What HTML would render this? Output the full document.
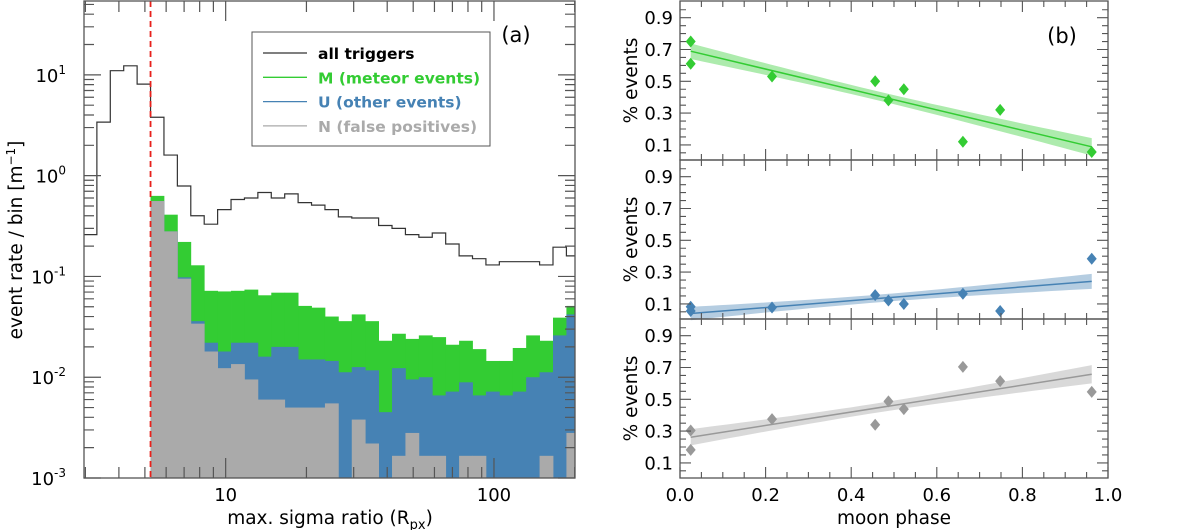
<!DOCTYPE html>
<html><head><meta charset="utf-8">
<style>
html,body{margin:0;padding:0;background:#fff;}
svg{display:block;font-family:"DejaVu Sans","Liberation Sans",sans-serif;}
</style></head>
<body>
<svg id="fig" width="1200" height="530" viewBox="0 0 1200 530" xmlns="http://www.w3.org/2000/svg">
<g id="left"></g>
<g id="right"></g>
</svg>
<script>
// ---------- Panel (a) data ----------
const binStartLog = 0.52;   // log10 of first full bin edge
const binWidthLog = 0.05;   // bin width in log10
const preBinAll = 0.26;     // partial bin left of first edge
const allTriggers = [3.4,11,12.3,8.1,3.8,1.6,0.79,0.40,0.33,0.46,0.58,0.60,0.68,0.60,0.66,0.54,0.51,0.46,0.39,0.38,0.38,0.32,0.30,0.26,0.245,0.27,0.21,0.16,0.15,0.13,0.14,0.14,0.14,0.13,0.195,0.16];
const stackStartBin = 4;
const totalMUN = [0.63,0.41,0.22,0.129,0.072,0.071,0.072,0.074,0.065,0.069,0.069,0.051,0.049,0.040,0.036,0.042,0.036,0.023,0.027,0.024,0.026,0.025,0.021,0.023,0.019,0.0145,0.0145,0.0195,0.026,0.023,0.039,0.051];
const otherUN = [0.56,0.28,0.098,0.036,0.022,0.018,0.022,0.022,0.016,0.020,0.020,0.015,0.015,0.0145,0.0112,0.0126,0.0117,0.0045,0.0123,0.0095,0.010,0.0066,0.0072,0.0089,0.0066,0.0072,0.0066,0.0072,0.010,0.0112,0.026,0.042];
const falseN = [0.56,0.28,0.095,0.034,0.018,0.0123,0.0135,0.0095,0.006,0.006,0.005,0.005,0.005,0.0055,0,0.0038,0.0022,0,0.00166,0.0028,0.00166,0.00166,0,0.00166,0.00166,0,0,0,0,0.00166,0,0.0028];
const thresholdLog = 0.72;
const xTickVals = [10,100];
const xTickLabels = ["10","100"];
const yTickExps = [-3,-2,-1,0,1];
const yTickLabels = ["-3","-2","-1","0","1"];

// ---------- Panel (b) data ----------
const moonPhase = [0.025,0.025,0.215,0.456,0.487,0.523,0.661,0.748,0.962];
const fracM = [0.75,0.61,0.53,0.50,0.38,0.45,0.12,0.32,0.055];
const fracU = [0.082,0.055,0.077,0.155,0.121,0.099,0.164,0.055,0.384];
const fracN = [0.304,0.182,0.375,0.34,0.487,0.438,0.704,0.614,0.547];
const phaseTicks = [0,0.2,0.4,0.6,0.8,1.0];
const phaseTickLabels = ["0.0","0.2","0.4","0.6","0.8","1.0"];
const fracTicks = [0.1,0.3,0.5,0.7,0.9];
const fracTickLabels = ["0.1","0.3","0.5","0.7","0.9"];

const NS="http://www.w3.org/2000/svg";
function mk(parent,tag,attrs,text){const e=document.createElementNS(NS,tag);for(const k in attrs)e.setAttribute(k,attrs[k]);if(text!==undefined)e.textContent=text;parent.appendChild(e);return e;}

// ===== Panel (a) =====
const L=document.getElementById('left');
const ax={x0:84,x1:575,y0:1,y1:478,lx0:0.472,lx1:2.302,ly0:-3,ly1:1.733};
const X=l=>ax.x0+(l-ax.lx0)/(ax.lx1-ax.lx0)*(ax.x1-ax.x0);
const Y=l=>ax.y1-(l-ax.ly0)/(ax.ly1-ax.ly0)*(ax.y1-ax.y0);
const Yv=v=>Math.max(ax.y0,Math.min(ax.y1,Y(Math.log10(v))));
const edge=k=>Math.min(ax.lx1,binStartLog+binWidthLog*k);

mk(L,'defs',{}).innerHTML='<clipPath id="clipA"><rect x="84" y="1" width="491" height="477"/></clipPath>';
const bars=mk(L,'g',{'clip-path':'url(#clipA)'});
function drawStack(arr,color,name){
  arr.forEach((v,i)=>{
    if(v<=0)return;
    const k=stackStartBin+i;
    const xa=X(edge(k)),xb=X(edge(k+1));
    const r=mk(bars,'rect',{x:xa,y:Yv(v),width:xb-xa+0.4,height:ax.y1-Yv(v),fill:color});
    
    
  });
}
drawStack(totalMUN,'#33cc33','bar-meteor');
drawStack(otherUN,'#4682b4','bar-other');
drawStack(falseN,'#aaaaaa','bar-false-positive');

let d='M'+ax.x0+','+Yv(preBinAll)+' H'+X(edge(0));
allTriggers.forEach((v,k)=>{d+=' V'+Yv(v)+' H'+X(edge(k+1));});
const st=mk(bars,'path',{d:d,fill:'none',stroke:'#333',"stroke-width":1.2});



const th=mk(L,'line',{x1:X(thresholdLog),x2:X(thresholdLog),y1:ax.y0,y2:ax.y1,stroke:'#e8211c','stroke-width':1.8,'stroke-dasharray':'6,4'});



const fa=mk(L,'rect',{x:ax.x0,y:ax.y0,width:ax.x1-ax.x0,height:ax.y1-ax.y0,fill:'none',stroke:'#555','stroke-width':1.3});


let tk='';
for(let dec=0;dec<3;dec++){for(let m=1;m<10;m++){const l=dec+Math.log10(m);if(l<ax.lx0||l>ax.lx1)continue;const x=X(l);const len=m===1?20:11;tk+=`M${x},${ax.y1}v${-len}M${x},${ax.y0}v${len}`;}}
for(let e=-3;e<2;e++){for(let m=1;m<10;m++){const l=e+Math.log10(m);if(l>ax.ly1)continue;const y=Y(l);const len=m===1?17:10;tk+=`M${ax.x0},${y}h${len}M${ax.x1},${y}h${-len}`;}}
mk(L,'path',{d:tk,stroke:'#555','stroke-width':1.2,fill:'none'});
xTickVals.forEach((v,i)=>{const t=mk(L,'text',{x:X(Math.log10(v)),y:501,'font-size':18,'text-anchor':'middle'},xTickLabels[i]);

});
yTickExps.forEach((e,i)=>{const t=mk(L,'text',{x:66,y:Y(e)+7,'font-size':18,'text-anchor':'end'});


t.innerHTML='10<tspan dy="-8" font-size="12">'+yTickLabels[i]+'</tspan>';});
const xl=mk(L,'text',{x:330,y:524,'font-size':18.5,'text-anchor':'middle'});


xl.innerHTML='max. sigma ratio (R<tspan dy="5" font-size="13">px</tspan><tspan dy="-5">)</tspan>';
const yl=mk(L,'text',{x:0,y:0,'font-size':18.5,'text-anchor':'middle',transform:'translate(22,240) rotate(-90)'});


yl.innerHTML='event rate / bin [m<tspan dy="-7" font-size="12">−1</tspan><tspan dy="7">]</tspan>';
const pa=mk(L,'text',{x:516,y:42,'font-size':21,'text-anchor':'middle'},'(a)');



const lg=mk(L,'g',{});


mk(lg,'rect',{x:252,y:32,width:238,height:114,fill:'#fff',stroke:'#555','stroke-width':1});
[['all triggers','#333','#000'],['M (meteor events)','#33cc33','#33cc33'],['U (other events)','#4682b4','#4682b4'],['N (false positives)','#aaaaaa','#aaaaaa']].forEach((e,i)=>{
  const y=53+i*24.3;
  const g=mk(lg,'g',{});
  
  
  mk(g,'line',{x1:263,x2:307,y1:y,y2:y,stroke:e[1],'stroke-width':1.3});
  mk(g,'text',{x:318,y:y+6,'font-size':15.5,'font-weight':'bold',fill:e[2]},e[0]);
});

// ===== Panel (b) =====
const R=document.getElementById('right');
const bx0=680,bx1=1108;
const PX=v=>bx0+v*(bx1-bx0);
const panels=[{top:1,bot:160,data:fracM,col:'#33cc33',band:'rgba(51,204,51,0.4)',name:'meteor'},
              {top:160,bot:319,data:fracU,col:'#4682b4',band:'rgba(70,130,180,0.4)',name:'other'},
              {top:319,bot:478,data:fracN,col:'#999999',band:'rgba(170,170,170,0.45)',name:'false-positive'}];
panels.forEach((p,pi)=>{
  const g=mk(R,'g',{});
  
  
  const PY=v=>p.bot-(v-0.005)/1.0*(p.bot-p.top);
  const n=moonPhase.length;
  const xm=moonPhase.reduce((a,b)=>a+b,0)/n, ym=p.data.reduce((a,b)=>a+b,0)/n;
  let sxx=0,sxy=0;moonPhase.forEach((x,i)=>{sxx+=(x-xm)**2;sxy+=(x-xm)*(p.data[i]-ym);});
  const b=sxy/sxx,a=ym-b*xm;
  let ss=0;moonPhase.forEach((x,i)=>{ss+=(p.data[i]-a-b*x)**2;});
  const s=Math.sqrt(ss/(n-2))*0.9;
  const xa=Math.min(...moonPhase),xb=Math.max(...moonPhase);
  const up=[],lo=[];
  for(let j=0;j<=40;j++){const x=xa+(xb-xa)*j/40;const h=s*Math.sqrt(1/n+(x-xm)**2/sxx);const yv=a+b*x;up.push(PX(x)+','+PY(yv+h));lo.unshift(PX(x)+','+PY(yv-h));}
  const band=mk(g,'polygon',{points:up.concat(lo).join(' '),fill:p.band});
  
  
  const fl=mk(g,'line',{x1:PX(xa),y1:PY(a+b*xa),x2:PX(xb),y2:PY(a+b*xb),stroke:p.col,'stroke-width':1.5});
  
  
  moonPhase.forEach((x,i)=>{
    const cx=PX(x),cy=PY(p.data[i]);
    const pt=mk(g,'polygon',{points:`${cx},${cy-6} ${cx+5},${cy} ${cx},${cy+6} ${cx-5},${cy}`,fill:p.col});
    
    
  });
  mk(g,'rect',{x:bx0,y:p.top,width:bx1-bx0,height:p.bot-p.top,fill:'none',stroke:'#555','stroke-width':1.3});
  let t='';
  for(let k=0;k<=20;k++){const x=PX(k*0.05);const len=k%4===0?11:6;t+=`M${x},${p.bot}v${-len}M${x},${p.top}v${len}`;}
  for(let k=1;k<=19;k++){const y=PY(k*0.05+0.0);const len=(k%4===2)?11:6;t+=`M${bx0},${y}h${len}M${bx1},${y}h${-len}`;}
  mk(g,'path',{d:t,stroke:'#555','stroke-width':1.1,fill:'none'});
  fracTicks.forEach((v,i)=>{const tt=mk(g,'text',{x:bx0-7,y:PY(v)+6.5,'font-size':18,'text-anchor':'end'},fracTickLabels[i]);
  
  });
  const yt=mk(g,'text',{x:0,y:0,'font-size':18.5,'text-anchor':'middle',transform:`translate(637,${(p.top+p.bot)/2}) rotate(-90)`},'% events');
  
  
});
phaseTicks.forEach((v,i)=>{const t=mk(R,'text',{x:PX(v),y:501,'font-size':18,'text-anchor':'middle'},phaseTickLabels[i]);

});
const mx=mk(R,'text',{x:894,y:524,'font-size':18.5,'text-anchor':'middle'},'moon phase');


const pb=mk(R,'text',{x:1062,y:43,'font-size':21,'text-anchor':'middle'},'(b)');


</script>
</body></html>
